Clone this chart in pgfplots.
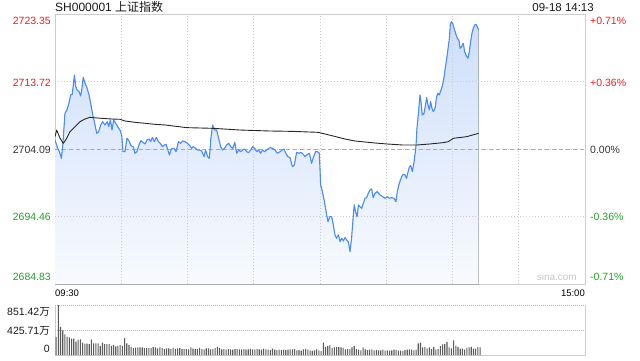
\documentclass[border=0pt]{standalone}
\usepackage{pgfplots}
\pgfplotsset{compat=1.18}
\usepgfplotslibrary{fillbetween}
\usepackage{pgfplotstable}
\usepackage{fontspec}
\setmainfont{Liberation Sans}
\newfontfamily\cjk{Noto Sans CJK SC}
\definecolor{pline}{RGB}{74,140,242}
\definecolor{ftop}{RGB}{206,223,250}
\definecolor{fbot}{RGB}{248,250,255}
\definecolor{upred}{RGB}{238,30,30}
\definecolor{dngreen}{RGB}{34,160,40}
\definecolor{gridc}{RGB}{204,204,204}
\definecolor{pc}{RGB}{240,150,100}
\definecolor{vbar}{RGB}{90,90,90}
\definecolor{neutral}{RGB}{51,51,51}

\pgfplotstableread{
m p
0 2705.42
1.2 2704.23
2 2703.75
2.9 2702.80
3.6 2704.94
4.5 2709.22
5.4 2709.70
6.3 2710.65
7.1 2711.84
7.8 2711.93
8.3 2713.26
8.8 2714.69
9.4 2713.03
10 2712.55
10.9 2712.31
11.6 2711.70
12.1 2712.55
12.8 2714.36
13.6 2713.50
14.5 2712.88
15.4 2711.84
16.3 2710.41
17.1 2708.98
17.8 2708.03
18.9 2706.37
19.8 2706.61
20.7 2707.56
21.6 2708.03
22.6 2707.56
23.7 2708.03
24.3 2707.32
25.1 2708.27
25.8 2706.84
26.6 2708.27
27.5 2707.80
28.4 2707.32
29.4 2706.84
30.2 2706.13
30.8 2703.75
31.7 2703.75
32.6 2705.66
33.5 2705.28
34.4 2704.61
35.5 2704.42
36.2 2703.52
37.1 2703.75
38 2704.70
38.9 2705.32
39.8 2705.09
40.8 2704.85
41.7 2705.42
42.6 2705.56
43.3 2705.18
44.1 2705.80
45 2705.18
45.9 2705.80
46.8 2705.18
47.7 2704.94
48.6 2704.47
49.5 2704.70
50.3 2704.80
51.8 2703.28
52.8 2704.23
53.9 2704.23
54.8 2703.75
55.9 2705.18
56.9 2704.94
57.8 2705.28
58.9 2705.18
59.9 2704.94
60.8 2704.70
61.9 2704.23
62.6 2704.47
63.7 2704.23
64.5 2703.99
65.4 2703.99
66.4 2703.85
67.5 2703.04
68.2 2703.99
69.1 2703.04
69.9 2702.80
70.6 2705.66
71.4 2707.56
72.2 2706.84
73.2 2706.84
74.1 2705.66
75 2704.47
75.9 2703.99
76.8 2704.23
77.7 2704.70
78.6 2704.94
79.6 2704.47
80.5 2704.23
81.4 2705.09
82.3 2703.52
83.2 2703.99
84.1 2703.75
85 2703.99
85.9 2704.13
86.8 2703.75
87.7 2703.61
88.6 2703.99
89.5 2704.47
90.4 2704.23
91.3 2703.75
92.2 2703.99
93.1 2703.52
94 2703.99
94.9 2703.75
95.9 2703.99
96.8 2704.23
97.6 2704.32
98.4 2704.23
99.6 2703.99
100.7 2703.52
101.9 2703.75
102.9 2703.99
103.7 2704.13
104.5 2703.52
105.4 2703.04
106.4 2702.90
107.5 2701.61
108.4 2701.85
109.4 2703.66
110.5 2703.52
111.4 2703.66
112.4 2703.37
113.2 2703.04
114.3 2703.37
115.2 2703.52
116.2 2702.09
117.1 2703.04
118 2703.75
118.9 2703.75
119.7 2703.52
120.3 2699.00
121.1 2698.05
122 2696.62
122.9 2694.96
123.6 2693.77
124.5 2694.48
125.3 2694.48
126 2693.29
126.8 2691.87
127.5 2691.39
128.3 2691.87
129.1 2690.92
129.8 2691.39
130.6 2691.01
131.3 2691.49
132.1 2691.15
132.8 2690.92
133.6 2689.49
134.3 2691.39
135.1 2694.72
135.5 2696.15
136.1 2695.19
136.8 2694.48
137.4 2696.15
138.1 2695.91
138.9 2695.67
139.6 2696.38
140.4 2697.10
141.1 2697.19
141.9 2697.81
142.6 2698.29
143.4 2698.43
144.1 2697.19
144.9 2697.81
145.9 2698.05
147.2 2697.57
148.4 2697.33
149.4 2697.10
150.5 2697.33
151.4 2697.10
152.4 2697.19
153.5 2697.10
154.4 2696.62
155 2698.05
155.9 2699.24
157 2700.19
157.7 2700.52
158.5 2700.43
159.2 2699.95
159.7 2700.66
160.5 2701.61
161.1 2701.76
161.8 2700.90
162.6 2702.33
163 2703.28
163.5 2704.70
163.9 2707.08
164.5 2708.98
165.3 2711.84
165.7 2710.89
166.3 2708.98
167.1 2709.22
167.8 2710.41
168.3 2711.46
168.9 2710.41
169.5 2709.70
170.1 2710.89
170.7 2709.94
171.3 2709.46
172.1 2709.94
172.8 2711.60
173.4 2712.08
174 2711.84
174.8 2712.55
175.5 2713.26
176.1 2714.22
176.7 2715.64
177.4 2717.07
178 2718.50
178.6 2719.92
179 2721.82
179.5 2722.30
180.1 2722.06
180.7 2721.35
181.4 2720.63
182.2 2719.92
182.9 2719.68
183.4 2718.50
184.1 2718.73
184.9 2719.21
185.5 2718.02
186.1 2717.54
187 2717.07
187.6 2718.02
188.2 2719.45
188.8 2720.63
189.4 2721.35
190 2721.82
190.6 2721.92
191.2 2721.59
191.8 2721.11
}\price

\pgfplotstableread{
m p
0 2705.89
0.75 2706.84
2.3 2705.66
3.8 2704.94
5.3 2705.66
6.8 2706.61
9.1 2707.32
11.3 2708.03
13.6 2708.41
15.8 2708.65
17.4 2708.60
21.1 2708.51
25.7 2708.41
29.4 2708.37
31.7 2708.13
36.2 2707.94
40.8 2707.80
45.3 2707.65
49.8 2707.56
59.6 2707.18
71.7 2707.08
83.8 2706.84
97.4 2706.70
107.2 2706.65
119.2 2706.51
125.3 2706.04
131.3 2705.56
135.8 2705.28
140.4 2705.13
144.9 2704.99
150.2 2704.85
157.7 2704.70
163.8 2704.70
169.8 2704.85
175.8 2705.04
178.1 2705.18
180.4 2705.66
186.4 2705.89
191.8 2706.37
}\avg

\pgfplotstableread{
v
310
851
480
420
350
312
300
280
278
228
256
267
212
195
195
184
267
200
200
200
156
212
184
184
184
156
173
145
156
167
156
290
200
170
140
118
125
128
128
128
118
118
118
118
134
128
112
128
118
100
112
112
100
120
105
112
118
100
100
100
95
130
110
100
100
120
100
95
112
112
95
100
118
139
118
95
100
90
100
95
90
100
100
95
95
100
90
95
105
95
90
100
95
90
110
95
90
85
110
90
85
90
85
90
85
90
95
95
100
80
85
75
95
105
90
80
70
80
95
80
65
210
140
150
170
120
130
140
135
130
120
95
100
100
130
155
100
90
80
130
95
85
90
95
80
85
80
80
90
75
80
75
80
90
85
75
75
70
85
90
95
90
80
90
200
210
130
140
115
130
100
140
90
100
150
180
185
225
130
115
248
160
140
110
110
90
120
130
140
110
110
140
130
}\vol

\begin{document}
\begin{tikzpicture}
\path (0pt,0pt) rectangle (640pt,360pt);
\begin{axis}[
  at={(55pt,75.7pt)}, anchor=south west, scale only axis,
  width=530pt, height=270pt,
  xmin=0, xmax=240, ymin=2684.83, ymax=2723.35,
  axis line style={draw=gridc, line width=0.8pt},
  xtick=\empty, ytick=\empty,
  clip=true,
]
\addplot[draw=none, name path=price, forget plot] table[x=m,y=p]{\price};
\path[name path=bot] (axis cs:0,2684.83) -- (axis cs:191.8,2684.83);
\addplot[draw=none, top color=ftop, bottom color=fbot] fill between[of=price and bot];
\pgfplotsinvokeforeach{30,60,90,120,150,180,210}{
  \draw[gridc, line width=0.8pt, dash pattern=on 1pt off 2pt] (axis cs:#1,2684.83) -- (axis cs:#1,2723.35);
}
\pgfplotsinvokeforeach{2694.46,2713.72}{
  \draw[gridc, line width=0.8pt, dash pattern=on 1pt off 2pt] (axis cs:0,#1) -- (axis cs:240,#1);
}
\addplot[gridc, line width=0.8pt, dash pattern=on 1pt off 2pt] coordinates {(0,2704.09) (240,2704.09)};
\addplot[pc, line width=0.8pt, dash pattern=on 4pt off 3pt] coordinates {(0,2704.09) (240,2704.09)};
\addplot[pline, line width=1.1pt, line join=round] table[x=m,y=p]{\price};
\addplot[black!85, line width=0.9pt, line join=round] table[x=m,y=p]{\avg};
\end{axis}

\begin{axis}[
  at={(55pt,5pt)}, anchor=south west, scale only axis,
  width=530pt, height=50pt,
  xmin=0, xmax=240, ymin=0, ymax=851.42,
  axis line style={draw=none},
  xtick=\empty, ytick=\empty,
  clip=false,
]
\draw[gridc, line width=0.8pt] (rel axis cs:0,1) -- (rel axis cs:0,0) -- (rel axis cs:1,0) -- (rel axis cs:1,1);
\draw[gridc!90!black, line width=0.8pt, dash pattern=on 1pt off 1pt] (rel axis cs:0,1) -- (rel axis cs:1,1);
\draw[gridc!90!black, line width=0.8pt, dash pattern=on 1pt off 1pt] (rel axis cs:0,0.5) -- (rel axis cs:1,0.5);
\addplot[ybar, bar width=1.1pt, fill=vbar, draw=none] table[x expr=\coordindex+0.5, y=v]{\vol};
\end{axis}

% title and labels
\node[anchor=base west, inner sep=0pt, font=\fontsize{12}{14}\selectfont, text=black!90] at (55pt,349pt) {SH000001 {\cjk 上证指数}};
\node[anchor=base east, inner sep=0pt, font=\fontsize{11.5}{14}\selectfont, text=black!90] at (594pt,349pt) {09-18 14:13};

\begin{scope}[every node/.style={font=\fontsize{10.5}{12}\selectfont, inner sep=0pt}]
\node[anchor=base east, text=upred] at (51pt,335.5pt) {2723.35};
\node[anchor=base east, text=upred] at (51pt,274pt) {2713.72};
\node[anchor=base east, text=neutral] at (51pt,207pt) {2704.09};
\node[anchor=base east, text=dngreen] at (51pt,139.5pt) {2694.46};
\node[anchor=base east, text=dngreen] at (51pt,79.3pt) {2684.83};
\node[anchor=base west, text=upred] at (590pt,335.5pt) {+0.71\%};
\node[anchor=base west, text=upred] at (590pt,274pt) {+0.36\%};
\node[anchor=base west, text=neutral] at (590pt,207pt) {0.00\%};
\node[anchor=base west, text=dngreen] at (590pt,139.5pt) {-0.36\%};
\node[anchor=base west, text=dngreen] at (590pt,79.3pt) {-0.71\%};
\node[anchor=base east, text=black!90] at (50pt,44.3pt) {851.42{\cjk 万}};
\node[anchor=base east, text=black!90] at (50pt,25.7pt) {425.71{\cjk 万}};
\node[anchor=base east, text=black!90] at (50pt,7.7pt) {0};
\end{scope}
\node[anchor=base west, inner sep=0pt, font=\fontsize{9.5}{11}\selectfont] at (55pt,63.3pt) {09:30};
\node[anchor=base east, inner sep=0pt, font=\fontsize{9.5}{11}\selectfont] at (585pt,63.3pt) {15:00};
\node[anchor=base east, inner sep=0pt, font=\fontsize{10}{11}\selectfont, text=black!22] at (577pt,79.3pt) {sina.com};
\end{tikzpicture}
\end{document}
